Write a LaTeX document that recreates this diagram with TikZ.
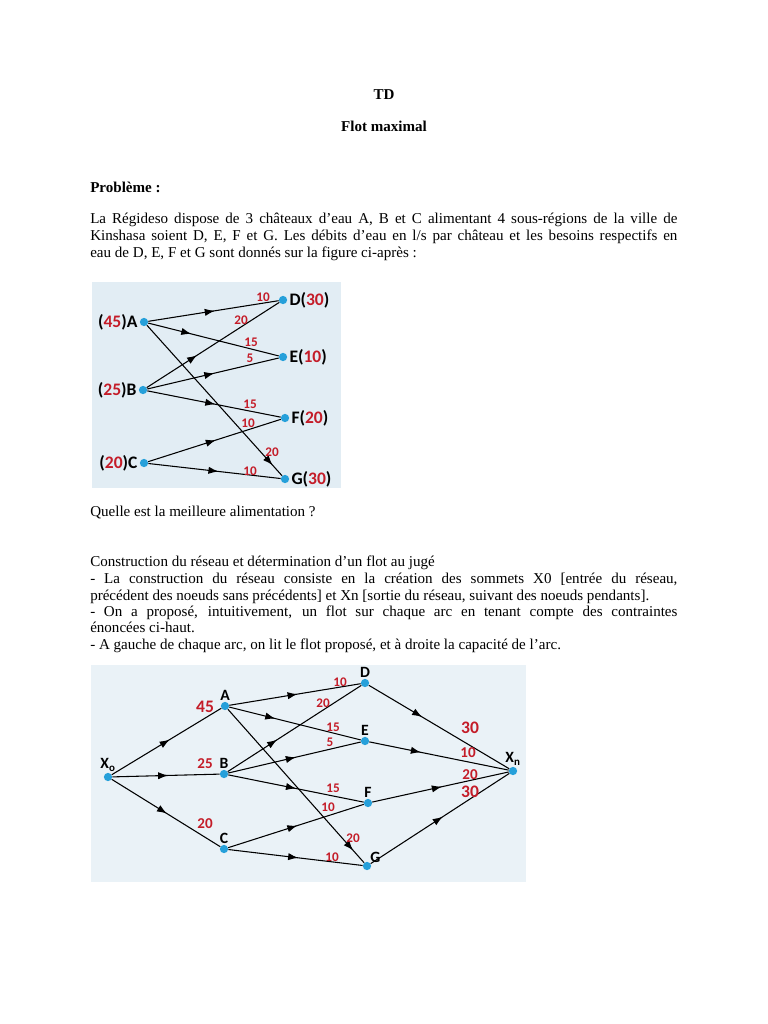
\documentclass[tikz,border=0pt]{standalone}
\usepackage{fontspec}
\setmainfont{Liberation Serif}
\newfontfamily\figfont{Carlito}
\usetikzlibrary{arrows.meta, decorations.markings, positioning}

\definecolor{figbgA}{RGB}{226,237,244}
\definecolor{figbgB}{RGB}{234,242,247}
\definecolor{numred}{RGB}{196,28,40}
\definecolor{dotblue}{RGB}{38,160,218}

% justified line of the body text
\newcommand{\jline}[1]{\makebox[468pt][s]{#1}}
\newcommand{\rn}[1]{\textcolor{numred}{#1}}

\begin{document}
\begin{tikzpicture}[
        x = 0.797pt, y = -0.797pt,
        txt/.style = {anchor = base west, inner sep = 0pt, font = \fontsize{12}{14}\selectfont},
        ttl/.style = {anchor = base, inner sep = 0pt, font = \fontsize{12}{14}\selectfont\bfseries},
        dot/.style = {circle, fill = dotblue, inner sep = 0pt, minimum size = 6.6pt},
        flow/.style = {draw = black, line width = 0.85pt},
        midarrow/.style = {postaction = {decorate}, decoration = {markings,
            mark = at position #1 with {\arrow{Latex[length = 8pt, width = 5.8pt]}}}},
        midarrow/.default = 0.5,
        numA/.style = {text = numred, inner sep = 0pt, font = \figfont\bfseries\fontsize{10.5}{11}\selectfont},
        numB/.style = {text = numred, inner sep = 0pt, font = \figfont\bfseries\fontsize{12}{13}\selectfont},
        numC/.style = {text = numred, inner sep = 0pt, font = \figfont\bfseries\fontsize{14}{15}\selectfont},
        lblA/.style = {inner sep = 0pt, font = \figfont\bfseries\fontsize{14}{15}\selectfont},
        lblB/.style = {inner sep = 0pt, font = \figfont\bfseries\fontsize{12.5}{13}\selectfont}
    ]
    \useasboundingbox[fill = white] (0,0) rectangle (768,1024);

    % texte
    \node[ttl] (td) at (384,99) {TD};
    \node[ttl] (titre) at (384,131) {Flot maximal};
    \node[txt, font = \fontsize{12}{14}\selectfont\bfseries] (pb) at (90,192) {Problème :};
    \node[txt] (p1) at (90,223) {\jline{La Régideso dispose de 3 châteaux d’eau A, B et C alimentant 4 sous-régions de la ville de}};
    \node[txt] (p2) at (90,240) {\jline{Kinshasa soient D, E, F et G. Les débits d’eau en l/s par château et les besoins respectifs en}};
    \node[txt] (p3) at (90,257) {eau de D, E, F et G sont donnés sur la figure ci-après :};
    \node[txt] (q1) at (90,516) {Quelle est la meilleure alimentation ?};
    \node[txt] (c1) at (90,566) {Construction du réseau et détermination d’un flot au jugé};
    \node[txt] (c2) at (90,583) {\jline{- La construction du réseau consiste en la création des sommets X0 [entrée du réseau,}};
    \node[txt] (c3) at (90,600) {précédent des noeuds sans précédents] et Xn [sortie du réseau, suivant des noeuds pendants].};
    \node[txt] (c4) at (90,616) {\jline{- On a proposé, intuitivement, un flot sur chaque arc en tenant compte des contraintes}};
    \node[txt] (c5) at (90,632) {énoncées ci-haut.};
    \node[txt] (c6) at (90,649) {- A gauche de chaque arc, on lit le flot proposé, et à droite la capacité de l’arc.};

    % figure 1
    \fill[figbgA] (92,282) rectangle (341,488);
    \node[dot, label = {[lblA, label distance = 1.5pt]left:(\rn{45})A}] (a1) at (144,322) {};
    \node[dot, label = {[lblA, label distance = 1.5pt]left:(\rn{25})B}] (b1) at (143,390) {};
    \node[dot, label = {[lblA, label distance = 1.5pt]left:(\rn{20})C}] (c1n) at (144,463) {};
    \node[dot, label = {[lblA, label distance = 1.5pt]right:D(\rn{30})}] (d1) at (283,300) {};
    \node[dot, label = {[lblA, label distance = 1.5pt]right:E(\rn{10})}] (e1) at (283,357) {};
    \node[dot, label = {[lblA, label distance = 1.5pt]right:F(\rn{20})}] (f1) at (285,418) {};
    \node[dot, label = {[lblA, label distance = 1.5pt]right:G(\rn{30})}] (g1) at (285,479) {};

    \path[flow]
        (a1) edge [midarrow = 0.51] (d1)
        (a1) edge [midarrow = 0.33] (e1)
        (a1) edge [midarrow = 0.93] (g1)
        (b1) edge [midarrow = 0.38] (d1)
        (b1) edge [midarrow = 0.51] (e1)
        (b1) edge [midarrow = 0.51] (f1)
        (c1n) edge [midarrow = 0.51] (f1)
        (c1n) edge [midarrow = 0.53] (g1);

    \node[numA] (n1ad) at (263,297) {10};
    \node[numA] (n1bd) at (241,320) {20};
    \node[numA] (n1ae) at (251,342) {15};
    \node[numA] (n1be) at (250,358) {5};
    \node[numA] (n1bf) at (250,404) {15};
    \node[numA] (n1cf) at (248,423) {10};
    \node[numA] (n1ag) at (272,452) {20};
    \node[numA] (n1cg) at (250,471) {10};

    % figure 2
    \fill[figbgB] (91,665) rectangle (526,882);
    \node[dot, label = {[lblB, label distance = 1pt]above:X\textsubscript{o}}] (x0) at (108,777) {};
    \node[dot, label = {[lblB, label distance = 1pt]above:A}] (a2) at (225,706) {};
    \node[dot, label = {[lblB, label distance = 1pt]above:B}] (b2) at (224,774) {};
    \node[dot, label = {[lblB, label distance = 1pt]above:C}] (c2n) at (224,849) {};
    \node[dot, label = {[lblB, label distance = 1pt]above:D}] (d2) at (365,683) {};
    \node[dot, label = {[lblB, label distance = 1pt]above:E}] (e2) at (365,741) {};
    \node[dot, label = {[lblB, label distance = 1pt]above:F}] (f2) at (368,803) {};
    \node[dot, label = {[lblB, label distance = 0pt]above right:G}] (g2) at (367,866) {};
    \node[dot, label = {[lblB, label distance = 1pt]above:X\textsubscript{n}}] (xn) at (513,771) {};

    \path[flow]
        (x0) edge [midarrow = 0.53] (a2)
        (x0) edge [midarrow = 0.52] (b2)
        (x0) edge [midarrow = 0.51] (c2n)
        (a2) edge [midarrow = 0.52] (d2)
        (a2) edge [midarrow = 0.35] (e2)
        (a2) edge [midarrow = 0.92] (g2)
        (b2) edge [midarrow = 0.37] (d2)
        (b2) edge [midarrow = 0.51] (e2)
        (b2) edge [midarrow = 0.50] (f2)
        (c2n) edge [midarrow = 0.51] (f2)
        (c2n) edge [midarrow = 0.52] (g2)
        (d2) edge [midarrow = 0.38] (xn)
        (e2) edge [midarrow = 0.37] (xn)
        (f2) edge [midarrow = 0.51] (xn)
        (g2) edge [midarrow = 0.52] (xn);

    \node[numC] (n2xa) at (205,707) {45};
    \node[numB] (n2xb) at (205,764) {25};
    \node[numB] (n2xc) at (205,824) {20};
    \node[numA] (n2ad) at (340,682) {10};
    \node[numA] (n2bd) at (323,703) {20};
    \node[numA] (n2ae) at (333,727) {15};
    \node[numA] (n2be) at (330,742) {5};
    \node[numA] (n2bf) at (333,788) {15};
    \node[numA] (n2cf) at (328,807) {10};
    \node[numA] (n2ag) at (353,838) {20};
    \node[numA] (n2cg) at (332,857) {10};
    \node[numC] (n2dx) at (470,728) {30};
    \node[numB] (n2ex) at (468,753) {10};
    \node[numB] (n2fx) at (470,775) {20};
    \node[numC] (n2gx) at (470,792) {30};
\end{tikzpicture}
\end{document}
